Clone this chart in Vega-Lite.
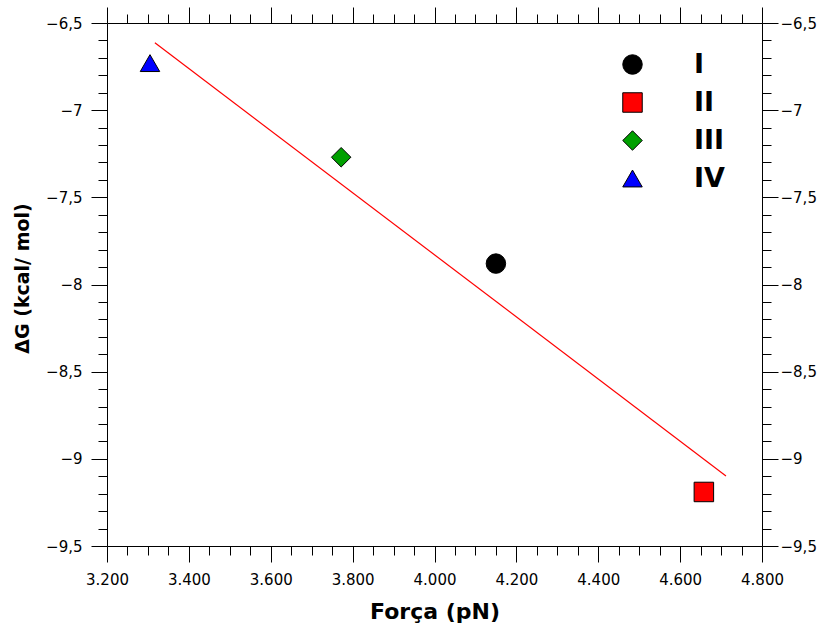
{
  "$schema": "https://vega.github.io/schema/vega-lite/v6.json",
  "width": 655,
  "height": 523,
  "autosize": {"type": "none"},
  "padding": {"left": 107, "top": 23, "right": 65, "bottom": 83},
  "background": "white",
  "config": {
    "view": {"stroke": null},
    "font": "DejaVu Sans",
    "axis": {
      "grid": false,
      "domainColor": "black",
      "tickColor": "black",
      "labelColor": "black",
      "titleColor": "black",
      "labelFont": "DejaVu Sans",
      "titleFont": "DejaVu Sans",
      "labelFontSize": 15,
      "titleFontWeight": "bold",
      "labelOverlap": false,
      "labelFlush": false,
      "labelBound": false,
      "tickSize": 16
    }
  },
  "layer": [
    {
      "data": {
        "values": [
          {"forca": 4.150, "dg": -7.88, "serie": "I"},
          {"forca": 4.658, "dg": -9.19, "serie": "II"},
          {"forca": 3.772, "dg": -7.27, "serie": "III"},
          {"forca": 3.305, "dg": -6.73, "serie": "IV"}
        ]
      },
      "mark": {"type": "point", "filled": true, "stroke": "black", "strokeWidth": 1, "opacity": 1},
      "encoding": {
        "x": {
          "field": "forca", "type": "quantitative",
          "scale": {"domain": [3.2, 4.8], "nice": false, "zero": false},
          "axis": {
            "orient": "bottom",
            "title": "Força (pN)",
            "titleFontSize": 22,
            "titlePadding": 14,
            "values": [3.2,3.25,3.3,3.35,3.4,3.45,3.5,3.55,3.6,3.65,3.7,3.75,3.8,3.85,3.9,3.95,4.0,4.05,4.1,4.15,4.2,4.25,4.3,4.35,4.4,4.45,4.5,4.55,4.6,4.65,4.7,4.75,4.8],
            "labelExpr": "abs(datum.value*5 - round(datum.value*5)) < 1e-6 ? format(datum.value, '.3f') : ''",
            "tickDash": {"condition": {"test": "abs(datum.value*5 - round(datum.value*5)) < 1e-6", "value": [16, 0]}, "value": [9, 30]},
            "labelPadding": 10
          }
        },
        "y": {
          "field": "dg", "type": "quantitative",
          "scale": {"domain": [-9.5, -6.5], "nice": false, "zero": false},
          "axis": {
            "orient": "left",
            "title": "ΔG (kcal/ mol)",
            "titleFontSize": 19,
            "titlePadding": 13,
            "titleY": 255,
            "values": [-9.5,-9.4,-9.3,-9.2,-9.1,-9.0,-8.9,-8.8,-8.7,-8.6,-8.5,-8.4,-8.3,-8.2,-8.1,-8.0,-7.9,-7.8,-7.7,-7.6,-7.5,-7.4,-7.3,-7.2,-7.1,-7.0,-6.9,-6.8,-6.7,-6.6,-6.5],
            "labelExpr": "abs(datum.value*2 - round(datum.value*2)) < 1e-6 ? replace(format(datum.value, '.1~f'), '.', ',') : ''",
            "tickDash": {"condition": {"test": "abs(datum.value*2 - round(datum.value*2)) < 1e-6", "value": [16, 0]}, "value": [9, 30]},
            "labelPadding": 9
          }
        },
        "color": {
          "field": "serie", "type": "nominal",
          "scale": {"domain": ["I", "II", "III", "IV"], "range": ["#000000", "#ff0000", "#00a000", "#0000ff"]},
          "legend": {
            "title": null,
            "orient": "none",
            "legendX": 512,
            "legendY": 28,
            "padding": 0,
            "labelFont": "DejaVu Sans",
            "labelFontSize": 27,
            "labelFontWeight": "bold",
            "labelColor": "black",
            "labelOffset": 48,
            "rowPadding": 10,
            "symbolStrokeColor": "black",
            "symbolStrokeWidth": 1
          }
        },
        "shape": {
          "field": "serie", "type": "nominal",
          "scale": {"domain": ["I", "II", "III", "IV"], "range": ["circle", "square", "diamond", "triangle-up"]}
        },
        "size": {
          "field": "serie", "type": "nominal",
          "scale": {"domain": ["I", "II", "III", "IV"], "range": [380, 380, 780, 620]}
        }
      }
    },
    {
      "data": {
        "values": [
          {"forca": 3.317, "dg": -6.613},
          {"forca": 4.712, "dg": -9.098}
        ]
      },
      "mark": {"type": "line", "color": "#ff0000", "strokeWidth": 1.2},
      "encoding": {
        "x": {
          "field": "forca", "type": "quantitative",
          "axis": {
            "orient": "top",
            "title": null,
            "values": [3.2,3.25,3.3,3.35,3.4,3.45,3.5,3.55,3.6,3.65,3.7,3.75,3.8,3.85,3.9,3.95,4.0,4.05,4.1,4.15,4.2,4.25,4.3,4.35,4.4,4.45,4.5,4.55,4.6,4.65,4.7,4.75,4.8],
            "labels": false,
            "tickDash": {"condition": {"test": "abs(datum.value*5 - round(datum.value*5)) < 1e-6", "value": [16, 0]}, "value": [9, 30]}
          }
        },
        "y": {
          "field": "dg", "type": "quantitative",
          "axis": {
            "orient": "right",
            "title": null,
            "values": [-9.5,-9.4,-9.3,-9.2,-9.1,-9.0,-8.9,-8.8,-8.7,-8.6,-8.5,-8.4,-8.3,-8.2,-8.1,-8.0,-7.9,-7.8,-7.7,-7.6,-7.5,-7.4,-7.3,-7.2,-7.1,-7.0,-6.9,-6.8,-6.7,-6.6,-6.5],
            "labelExpr": "abs(datum.value*2 - round(datum.value*2)) < 1e-6 ? replace(format(datum.value, '.1~f'), '.', ',') : ''",
            "tickDash": {"condition": {"test": "abs(datum.value*2 - round(datum.value*2)) < 1e-6", "value": [16, 0]}, "value": [9, 30]},
            "labelPadding": 2
          }
        }
      }
    }
  ],
  "resolve": {"axis": {"x": "independent", "y": "independent"}}
}
